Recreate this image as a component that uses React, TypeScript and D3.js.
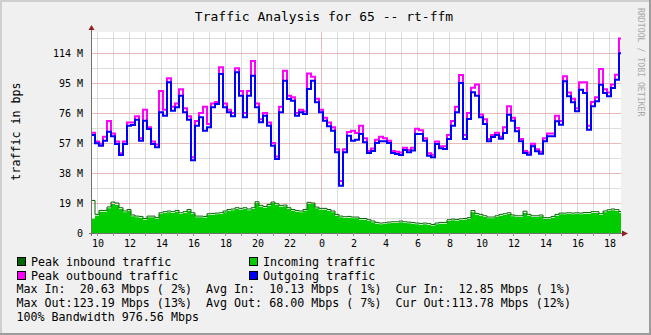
import React from "react";
import * as d3 from "d3";

// ---- data (Mbps, 15-minute samples starting 09:37:30) ----
const outAvg = [62.1,56.8,55.3,58.5,64.2,61.2,56.4,49.4,56.4,68.0, 68.4,71.8,58.5,71.1,65.9,56.4,54.3,76.4,74.3,95.4, 77.5,79.6,87.0,76.4,71.8,46.0,68.0,73.3,64.8,66.9, 79.6,81.7,100.7,
  79.6,76.4,73.9,101.8,87.0,73.3,87.0,99.6, 79.6,70.1,74.3,68.0,55.3,46.9,76.4,96.5,84.9,83.8, 74.3,76.4,75.4,91.2,96.5,82.8,76.4,71.1,67.6,64.8, 51.1,30.0,51.1,61.6,58.5,
  59.1,62.7,57.4,50.7,51.9,57.0,58.1,58.1,57.0,50.7, 50.0,49.4,52.6,51.1,52.2,62.7,62.7,58.5,49.0,47.9, 56.4,53.6,53.2,59.5,68.0,76.4,95.0,59.5,72.2,89.1, 87.0,73.3,69.0,
  58.1,60.8,62.1,59.7,63.3,74.9,71.1,64.4,58.1,50.7, 49.6,54.9,51.7,50.2,58.1,61.2,61.2,70.7,68.6,96.1, 86.6,82.8,77.1,90.8,88.7,65.4,80.2,83.4,93.9,88.7, 86.6,91.8,97.1,113.78];

const outPeak = [63.5,58,56.5,61,71,63,58,50.5,58,70, 70,74,60,78,67,58,56,90,78,98, 80,82,91,79,74,48,71,76,80,69, 82,83,105,
  82,78,76,104.3,90,76,90,109, 82,72,76,70,57,48.5,80,102.8,87,86, 76,78,77,101,99,85,78,73,70,67, 53,33,53,64,64.8,
  63.3,68,60,52,53.5,59,61,60,58.5,52, 51.5,51,54,52.5,54,66,65,60,50.5,49.5, 58,55,55,62,71,80,100,62,76,92, 94,75,72,
  59.5,62,63.5,61,67,80.2,73,66.5,59.5,52, 51,56.5,53,51.5,60,63,63,74.3,71,99.2, 89,85,79,95.4,95.4,68,83,86,103.9,91, 89,94,100.3,123.19];

const inAvg = [9.0,11.0,13.5,13.5,15.6,18.4,17.7,15.2,13.1,14.1, 10.6,9.9,9.7,8.4,9.9,9.9,8.9,12.0,12.7,13.1, 12.7,13.5,12.0,12.7,14.1,12.0,9.9,9.9,9.7,11.4, 11.6,11.8,12.0,13.1,14.1,14.4,15.2,14.8,15.2,14.4, 15.2,19.0,16.7,16.0,17.3,19.0,17.7,16.7,16.9,15.2, 14.1,13.5,13.1,14.1,18.4,18.4,15.6,14.8,14.8,14.1, 13.1,11.0,9.9,9.5,9.7,9.3,
  9.3,8.4,8.4,7.6,6.8,5.9,5.5,5.7,6.1,6.3, 6.3,6.8,6.3,6.1,5.9,5.5,5.3,5.5,5.1,4.6, 5.5,5.9,5.9,7.6,8.0,7.8,8.2,8.4,8.9,13.1, 11.6,11.0,10.1,9.3,9.3,10.1,11.0,11.4,12.0,10.6, 10.1,10.1,12.7,11.0,10.1,10.1,10.6,8.9,8.9,9.7, 11.0,11.8,11.8,12.0,11.8,12.0,11.8,12.2,12.2,12.7, 12.7,11.4,13.1,13.9,14.4,14.0,12.85];

const inPeak = [20.63,11.8,14.3,14.3,16.5,19.6,19.0,16.0,13.9,14.9, 11.4,10.7,10.5,9.2,10.7,10.7,9.7,12.8,13.5,13.9, 13.5,14.3,12.8,13.5,14.9,12.8,10.7,10.7,10.5,12.2, 12.4,12.6,12.8,13.9,14.9,15.2,16.0,15.6,16.0,15.2, 16.0,19.8,17.5,16.8,18.1,19.6,18.5,17.5,17.7,16.0, 14.9,14.3,13.9,14.9,19.4,19.0,16.4,15.6,15.6,14.9, 13.9,11.8,10.7,10.3,10.5,10.1,
  10.1,9.2,9.2,8.4,7.6,6.7,6.3,6.5,6.9,7.1, 7.1,7.6,7.1,6.9,6.7,6.3,6.1,6.3,5.9,5.4, 6.3,6.7,6.7,8.4,8.8,8.6,9.0,9.2,9.7,14.2, 12.4,11.8,10.9,10.1,10.1,10.9,11.8,12.2,12.8,11.4, 10.9,10.9,13.8,11.8,10.9,10.9,11.4,9.7,9.7,10.5, 11.8,12.6,12.6,12.8,12.6,12.8,12.6,13.0,13.0,13.5, 13.5,12.2,13.9,14.7,15.2,14.8,13.6];

const yLabelValues = [0, 19, 38, 57, 76, 95, 114];
const yMinorValues = [9.5, 28.5, 47.5, 66.5, 85.5, 104.5, 123.5];

const title = "Traffic Analysis for 65 -- rt-ffm";
const yTitle = "traffic in bps";
const watermark = "RRDTOOL / TOBI OETIKER";
const legendItems = [
  { label: "Peak inbound traffic", color: "#006600", col: 0, row: 0 },
  { label: "Incoming traffic", color: "#00cc00", col: 1, row: 0 },
  { label: "Peak outbound traffic", color: "#ff00ff", col: 0, row: 1 },
  { label: "Outgoing traffic", color: "#0000ff", col: 1, row: 1 },
];
const statLines = [
  "Max In:  20.63 Mbps ( 2%)  Avg In:  10.13 Mbps ( 1%)  Cur In:  12.85 Mbps ( 1%)",
  "Max Out:123.19 Mbps (13%)  Avg Out: 68.00 Mbps ( 7%)  Cur Out:113.78 Mbps (12%)",
  "100% Bandwidth 976.56 Mbps",
];

const W = 651, H = 335;
const L = 92, R = 621, T = 32, B = 233;
const FONT = "DejaVu Sans Mono";

export default function App() {
  const t0 = new Date(2024, 0, 1, 9, 41, 15);
  const t1 = new Date(2024, 0, 2, 18, 45, 0);
  const sampleStart = new Date(2024, 0, 1, 9, 37, 30);
  const x = d3.scaleTime().domain([t0, t1]).range([L, R]);
  const y = d3.scaleLinear().domain([0, 127.3]).range([B, T]);
  const tAt = (i: number) => d3.timeMinute.offset(sampleStart, i * 15);

  const withEnd = (arr: number[]) => {
    const pts = arr.map((v, i) => [tAt(i), v] as [Date, number]);
    pts.push([tAt(arr.length), arr[arr.length - 1]]);
    return pts;
  };

  const line = d3.line<[Date, number]>().x(d => x(d[0])).y(d => y(d[1])).curve(d3.curveStepAfter);
  const area = d3.area<[Date, number]>().x(d => x(d[0])).y0(y(0)).y1(d => y(d[1])).curve(d3.curveStepAfter);

  const hours = d3.timeHour.range(d3.timeHour.ceil(t0), t1);
  const fmt = d3.timeFormat("%-H");

  const minorGrid = "#dcdcdc";
  const majorGrid = "#eababa";

  return (
    <svg width={W} height={H} style={{ position: "absolute", left: 0, top: 0 }} fontFamily={FONT}>
      <defs>
        <clipPath id="plotclip"><rect x={L} y={T} width={R - L} height={B - T} /></clipPath>
      </defs>
      <rect x={0} y={0} width={W} height={H} fill="#f0f0f0" />
      <rect x={0} y={0} width={W} height={2} fill="#cfcfcf" />
      <rect x={0} y={0} width={2} height={H} fill="#cfcfcf" />
      <rect x={0} y={H - 2} width={W} height={2} fill="#9c9c9c" />
      <rect x={W - 2} y={0} width={2} height={H} fill="#9c9c9c" />
      <rect x={L} y={T} width={R - L} height={B - T} fill="#ffffff" />

      {/* grid */}
      {yMinorValues.map(v => (
        <line key={"ym" + v} x1={L} x2={R} y1={Math.round(y(v)) + 0.5} y2={Math.round(y(v)) + 0.5} stroke={minorGrid} />
      ))}
      {hours.map(h => (
        <line key={"xg" + h.getTime()} x1={Math.round(x(h)) + 0.5} x2={Math.round(x(h)) + 0.5} y1={T} y2={B}
          stroke={h.getHours() === 0 ? majorGrid : minorGrid} />
      ))}
      {yLabelValues.filter(v => v > 0).map(v => (
        <line key={"yM" + v} x1={L} x2={R} y1={Math.round(y(v)) + 0.5} y2={Math.round(y(v)) + 0.5} stroke={majorGrid} />
      ))}

      {/* data */}
      <g clipPath="url(#plotclip)">
        <path d={area(withEnd(inAvg)) || ""} fill="#00cc00" />
        <path d={line(withEnd(inPeak)) || ""} fill="none" stroke="#006600" strokeWidth={1} />
        <path d={line(withEnd(outPeak)) || ""} fill="none" stroke="#ff00ff" strokeWidth={2} />
        <path d={line(withEnd(outAvg)) || ""} fill="none" stroke="#0000ff" strokeWidth={2} />
      </g>

      {/* axes */}
      <line x1={91.5} x2={91.5} y1={29} y2={B + 3} stroke="#707070" />
      <line x1={89} x2={R + 2} y1={B + 0.5} y2={B + 0.5} stroke="#707070" />
      <path d={`M88.5,30 L94.5,30 L91.5,25 Z`} fill="#902020" />
      <path d={`M622,230.5 L622,236.5 L628,233.5 Z`} fill="#902020" />
      {hours.map(h => (
        <line key={"xt" + h.getTime()} x1={Math.round(x(h)) + 0.5} x2={Math.round(x(h)) + 0.5} y1={B} y2={B + 3} stroke="#909090" />
      ))}
      {yLabelValues.map(v => (
        <text key={"yl" + v} x={83} y={y(v) + 3.5} textAnchor="end" fontSize={10} fill="#000">
          {v === 0 ? "0" : `${v} M`}
        </text>
      ))}
      {hours.filter(h => h.getHours() % 2 === 0).map(h => (
        <text key={"xl" + h.getTime()} x={x(h) + 1} y={247} textAnchor="middle" fontSize={10} fill="#000">
          {fmt(h)}
        </text>
      ))}

      {/* titles */}
      <text x={324} y={21} textAnchor="middle" fontSize={13} fill="#000">{title}</text>
      <text transform={`translate(20,131.5) rotate(-90)`} textAnchor="middle" fontSize={11.66} fill="#000">{yTitle}</text>
      <text transform={`translate(637.5,8) rotate(90)`} fontSize={8.2} fill="#a8a8a8">{watermark}</text>

      {/* legend */}
      {legendItems.map(it => {
        const bx = it.col === 0 ? 17 : 249;
        const by = 257 + it.row * 14;
        return (
          <g key={it.label}>
            <rect x={bx + 0.5} y={by + 0.5} width={8} height={8} fill={it.color} stroke="#000" />
            <text x={bx + 14} y={by + 8.5} fontSize={11.66} fill="#000" style={{ whiteSpace: "pre" }}>{it.label}</text>
          </g>
        );
      })}
      {statLines.map((s, i) => (
        <text key={"st" + i} x={16.5} y={293 + i * 14} fontSize={11.66} fill="#000" xmlSpace="preserve" style={{ whiteSpace: "pre" }}>{s}</text>
      ))}
    </svg>
  );
}
